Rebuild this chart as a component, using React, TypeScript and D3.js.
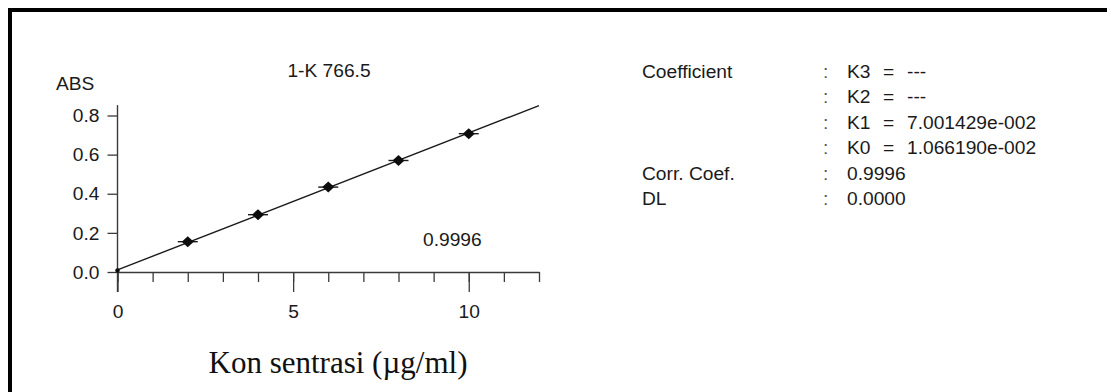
import { useEffect, useRef } from "react";
import * as d3 from "d3";

// calibration points (concentration in µg/ml, absorbance)
const concentrations = [0, 2, 4, 6, 8, 10];
const absorbances = [0.008, 0.155, 0.293, 0.434, 0.57, 0.707];

const yTicks = [0, 0.2, 0.4, 0.6, 0.8];
const xMajorTicks = [0, 5, 10];
const xMinorTicks = [0, 1, 2, 3, 4, 5, 6, 7, 8, 9, 10, 11, 12];

// fit coefficients
const K1 = 0.07001429;
const K0 = 0.0106619;
const corrCoef = "0.9996";

const coefKeys = ["K3", "K2", "K1", "K0"];
const coefValues = ["---", "---", "7.001429e-002", "1.066190e-002"];
const infoLabels = ["Coefficient", "", "", "", "Corr. Coef.", "DL"];
const plainValues = ["0.9996", "0.0000"];

const W = 1107;
const H = 392;
const FONT = "'Liberation Sans', Arial, sans-serif";
const FS = 19.2;

const App = () => {
  const svgRef = useRef(null);

  useEffect(() => {
    const svg = d3.select(svgRef.current);
    svg.selectAll("*").remove();

    // frame (top + left only, the rest is cropped)
    svg.append("line").attr("x1", 8).attr("x2", W).attr("y1", 10).attr("y2", 10)
      .attr("stroke", "#000").attr("stroke-width", 4);
    svg.append("line").attr("x1", 10).attr("x2", 10).attr("y1", 8).attr("y2", H)
      .attr("stroke", "#000").attr("stroke-width", 4);

    const x = d3.scaleLinear().domain([0, 12]).range([117.5, 539]);
    const y = d3.scaleLinear().domain([0, 0.8]).range([272, 115.5]);

    const g = svg.append("g").attr("font-family", FONT).attr("fill", "#1a1a1a");

    // y axis
    const yAxis = g.append("g")
      .attr("transform", `translate(${x(0)},0)`)
      .call(d3.axisLeft(y).tickValues(yTicks).tickFormat(d3.format(".1f")).tickSize(10).tickPadding(8).tickSizeOuter(0));
    yAxis.select(".domain").remove();
    yAxis.selectAll("line").attr("stroke", "#3a3a3a").attr("stroke-width", 1.3);
    yAxis.selectAll("text").attr("font-size", FS).attr("font-family", FONT).attr("fill", "#1a1a1a");
    g.append("line")
      .attr("x1", x(0)).attr("x2", x(0))
      .attr("y1", y(0.853)).attr("y2", y(0) + 20)
      .attr("stroke", "#3a3a3a").attr("stroke-width", 1.4);

    // x axis: minor ticks, then major ticks with labels
    const xMinor = g.append("g")
      .attr("transform", `translate(0,${y(0)})`)
      .call(d3.axisBottom(x).tickValues(xMinorTicks).tickSize(10).tickFormat(() => "").tickSizeOuter(0));
    xMinor.select(".domain").attr("stroke", "#3a3a3a").attr("stroke-width", 1.4);
    xMinor.selectAll("line").attr("stroke", "#3a3a3a").attr("stroke-width", 1.3);

    const xMajor = g.append("g")
      .attr("transform", `translate(0,${y(0)})`)
      .call(d3.axisBottom(x).tickValues(xMajorTicks).tickSize(20).tickPadding(12).tickFormat(d3.format("d")));
    xMajor.select(".domain").remove();
    xMajor.selectAll("line").attr("stroke", "#3a3a3a").attr("stroke-width", 1.3);
    xMajor.selectAll("text").attr("font-size", FS).attr("font-family", FONT).attr("fill", "#1a1a1a");

    // fitted line
    g.append("line")
      .attr("x1", x(0)).attr("y1", y(K0))
      .attr("x2", x(12)).attr("y2", y(K0 + K1 * 12))
      .attr("stroke", "#1a1a1a").attr("stroke-width", 1.4);

    // markers
    const pts = concentrations.map((c, i) => ({ c, a: absorbances[i] }));
    const mk = g.append("g").selectAll("g").data(pts).join("g")
      .attr("transform", (d) => `translate(${x(d.c)},${y(d.a)})`);
    mk.filter((d, i) => i > 0).append("line")
      .attr("x1", -10).attr("x2", 10).attr("y1", 0).attr("y2", 0)
      .attr("stroke", "#1a1a1a").attr("stroke-width", 1.4);
    mk.append("path")
      .attr("d", (d, i) => (i === 0 ? d3.symbol(d3.symbolCircle, 16)() : "M-6,0L0,-5.5L6,0L0,5.5Z"))
      .attr("fill", "#0d0d0d");

    // labels
    g.append("text").attr("x", 56).attr("y", 90).attr("font-size", FS).text("ABS");
    g.append("text").attr("x", 329).attr("y", 77).attr("text-anchor", "middle")
      .attr("font-size", FS).text("1-K 766.5");
    g.append("text").attr("x", 423).attr("y", 246).attr("font-size", FS).text(corrCoef);

    svg.append("text")
      .attr("x", 338).attr("y", 373).attr("text-anchor", "middle")
      .attr("font-family", "'Liberation Serif', 'Times New Roman', serif")
      .attr("font-size", 31).attr("fill", "#111")
      .text("Kon sentrasi (µg/ml)");

    // coefficient block
    const rowY = (i: number) => 78 + i * 25.4;
    const info = g.append("g").attr("font-size", FS);
    infoLabels.forEach((t, i) => {
      if (t) info.append("text").attr("x", 642).attr("y", rowY(i)).text(t);
      info.append("text").attr("x", 823).attr("y", rowY(i)).attr("fill", "#555").text(":");
    });
    coefKeys.forEach((k, i) => {
      info.append("text").attr("x", 847).attr("y", rowY(i)).text(k);
      info.append("text").attr("x", 883).attr("y", rowY(i)).text("=");
      info.append("text").attr("x", 907).attr("y", rowY(i)).text(coefValues[i]);
    });
    plainValues.forEach((v, i) => {
      info.append("text").attr("x", 847).attr("y", rowY(i + 4)).text(v);
    });
  }, []);

  return (
    <svg
      ref={svgRef}
      width={W}
      height={H}
      style={{ position: "absolute", left: 0, top: 0, background: "#fff" }}
    />
  );
};

export default App;
